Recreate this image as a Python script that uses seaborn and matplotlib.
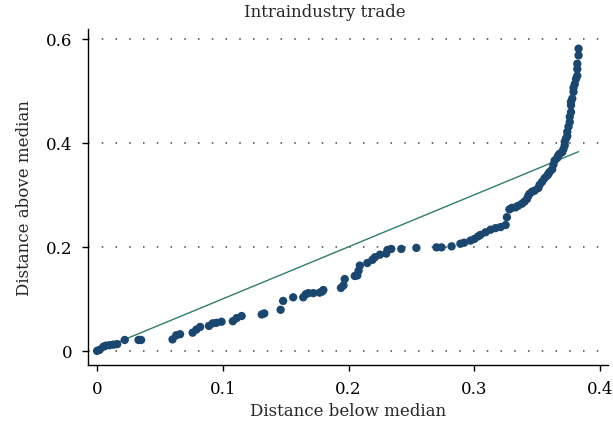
import numpy as np
import pandas as pd
import matplotlib
matplotlib.use("Agg")
import matplotlib.pyplot as plt
import seaborn as sns

# Symmetry plot: distance below / above the median
below = [0.000, 0.002, 0.005, 0.007, 0.010, 0.013, 0.016, 0.022, 0.033, 0.035,
         0.060, 0.063, 0.066, 0.076, 0.079, 0.082, 0.089, 0.092, 0.095, 0.099,
         0.108, 0.111, 0.115, 0.131, 0.133, 0.146, 0.148, 0.156, 0.164, 0.166,
         0.168, 0.172, 0.177, 0.179, 0.180, 0.194, 0.196, 0.197, 0.205, 0.207,
         0.208, 0.209, 0.215, 0.219, 0.221, 0.225, 0.230, 0.231, 0.234, 0.242,
         0.254, 0.270, 0.274, 0.282, 0.289, 0.292, 0.297, 0.300, 0.303, 0.305,
         0.309, 0.313, 0.317, 0.321, 0.325, 0.326, 0.328, 0.330, 0.333, 0.335,
         0.338, 0.340, 0.342, 0.343, 0.344, 0.346, 0.348, 0.351, 0.352, 0.354,
         0.356, 0.358, 0.359, 0.360, 0.362, 0.363, 0.364, 0.366, 0.367, 0.368,
         0.370, 0.371, 0.372, 0.372, 0.373, 0.374, 0.374, 0.375, 0.376, 0.376,
         0.377, 0.377, 0.377, 0.378, 0.379, 0.379, 0.380, 0.381, 0.382, 0.382,
         0.382, 0.383, 0.383]
above = [0.000, 0.002, 0.008, 0.010, 0.011, 0.012, 0.013, 0.021, 0.021, 0.021,
         0.022, 0.030, 0.032, 0.035, 0.041, 0.046, 0.048, 0.053, 0.054, 0.056,
         0.057, 0.063, 0.067, 0.070, 0.072, 0.079, 0.096, 0.103, 0.103, 0.109,
         0.111, 0.111, 0.112, 0.114, 0.117, 0.121, 0.126, 0.138, 0.144, 0.145,
         0.154, 0.164, 0.169, 0.175, 0.180, 0.185, 0.187, 0.194, 0.196, 0.196,
         0.198, 0.199, 0.199, 0.201, 0.206, 0.208, 0.212, 0.215, 0.220, 0.223,
         0.228, 0.233, 0.236, 0.238, 0.242, 0.257, 0.272, 0.275, 0.276, 0.279,
         0.283, 0.287, 0.292, 0.298, 0.302, 0.306, 0.308, 0.313, 0.319, 0.325,
         0.332, 0.337, 0.340, 0.344, 0.349, 0.358, 0.366, 0.371, 0.376, 0.379,
         0.382, 0.388, 0.395, 0.402, 0.408, 0.413, 0.421, 0.431, 0.440, 0.450,
         0.459, 0.472, 0.479, 0.485, 0.498, 0.506, 0.513, 0.523, 0.529, 0.542,
         0.552, 0.568, 0.581]

x_ticks = [0, 0.1, 0.2, 0.3, 0.4]
x_labels = ["0", "0.1", "0.2", "0.3", "0.4"]
y_ticks = [0, 0.2, 0.4, 0.6]
y_labels = ["0", "0.2", "0.4", "0.6"]

df = pd.DataFrame({"below": below, "above": above})
ref = pd.DataFrame({"x": [0, max(below)], "y": [0, max(below)]})

sns.set_style("ticks")
plt.rcParams["font.family"] = ["DejaVu Serif", "Liberation Serif"]

fig = plt.figure(figsize=(6.13, 4.31), dpi=100)
ax = fig.add_axes([0.1436, 0.151, 0.8484, 0.7796])

for yv in y_ticks:
    ax.axhline(yv, color="#444444", lw=1.1, ls=(0, (1, 8)), zorder=0)

sns.lineplot(data=ref, x="x", y="y", ax=ax, color="#2e7d6b", lw=1.0, zorder=2)
sns.scatterplot(data=df, x="below", y="above", ax=ax, color="#1a476f",
                s=36, edgecolor="none", zorder=3)

ax.set_xlim(-0.0072, 0.4065)
ax.set_ylim(-0.027, 0.619)
ax.set_xticks(x_ticks)
ax.set_xticklabels(x_labels)
ax.set_yticks(y_ticks)
ax.set_yticklabels(y_labels)
ax.tick_params(axis="both", labelsize=12, length=4.5, width=1, color="black",
               labelcolor="black")
ax.tick_params(axis="y", pad=7)
ax.tick_params(axis="x", pad=6)

for side in ["top", "right"]:
    ax.spines[side].set_visible(False)
for side in ["left", "bottom"]:
    ax.spines[side].set_color("black")
    ax.spines[side].set_linewidth(1.0)

ax.set_xlabel("Distance below median", fontsize=12, labelpad=4)
ax.set_ylabel("Distance above median", fontsize=12, labelpad=9)
fig.text(0.530, 0.972, "Intraindustry trade", ha="center", va="center", fontsize=12)

fig.savefig("out.png", dpi=100)
